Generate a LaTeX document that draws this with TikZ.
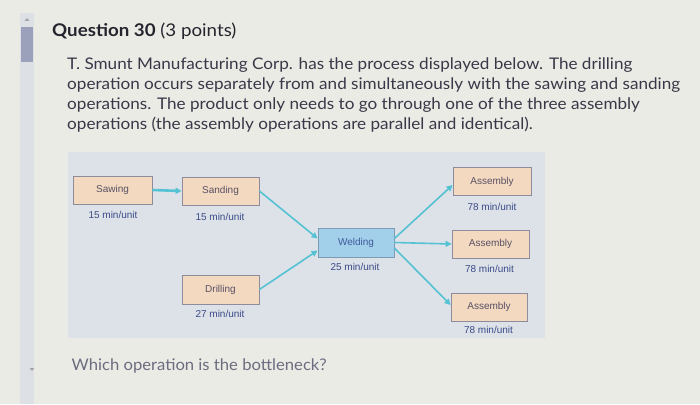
\documentclass[tikz,border=0pt]{standalone}
\usepackage{fontspec}
\setmainfont{Lato}
\newfontfamily\parafont[FakeStretch=1.07]{Lato}
\newfontfamily\askfont[FakeStretch=1.04]{Lato}
\newfontfamily\diagfont{Liberation Sans}
\usetikzlibrary{arrows.meta}
\definecolor{bgcol}{HTML}{EBEBE5}
\definecolor{panelcol}{HTML}{DCE2E8}
\definecolor{trackcol}{HTML}{DDE0E5}
\definecolor{thumbcol}{HTML}{9BA1BA}
\definecolor{titlecol}{HTML}{25252F}
\definecolor{paracol}{HTML}{383848}
\definecolor{askcol}{HTML}{6C6C80}
\definecolor{peach}{HTML}{F2D9C0}
\definecolor{peachedge}{HTML}{8E8C9C}
\definecolor{weldfill}{HTML}{A2CFEA}
\definecolor{weldedge}{HTML}{7C9CB4}
\definecolor{boxtext}{HTML}{5A5064}
\definecolor{weldtext}{HTML}{3D5A9A}
\definecolor{labelcol}{HTML}{3B4A88}
\definecolor{arrowcol}{HTML}{55C2D3}
\tikzset{
  opbox/.style={draw=peachedge, fill=peach, line width=0.8pt, minimum width=77pt, minimum height=28pt, inner sep=0pt, font=\diagfont\fontsize{10}{11}\selectfont, text=boxtext},
  weldbox/.style={opbox, draw=weldedge, fill=weldfill, text=weldtext},
  ratelabel/.style={inner sep=0pt, font=\diagfont\fontsize{10}{11}\selectfont, text=labelcol},
  flow/.style={draw=arrowcol, line width=1.6pt, -{Triangle[length=6pt,width=6pt]}},
  paraline/.style={anchor=base west, inner sep=0pt, font=\parafont\fontsize{16}{18}\selectfont, text=paracol}
}
\begin{document}
\begin{tikzpicture}[x=1pt,y=-1pt]
\useasboundingbox (0,0) rectangle (700,404);
\fill[bgcol] (0,0) rectangle (700,404);
% scrollbar
\fill[trackcol] (20,13) rectangle (34,404);
\fill[thumbcol] (21,27) rectangle (33,62);
\fill[gray!70] (24.5,21) -- (29.5,21) -- (27,18) -- cycle;
\fill[gray!70] (29.5,368) -- (34.5,368) -- (32,371) -- cycle;
% title and text
\node[anchor=base west, inner sep=0pt, font=\parafont\fontsize{17.5}{20}\selectfont, text=titlecol] (title) at (52,36.7) {\textbf{Question 30} (3 points)};
\node[paraline] (p1) at (67,69.5) {T. Smunt Manufacturing Corp. has the process displayed below. The drilling};
\node[paraline] (p2) at (67,89.5) {operation occurs separately from and simultaneously with the sawing and sanding};
\node[paraline] (p3) at (67,109.5) {operations. The product only needs to go through one of the three assembly};
\node[paraline] (p4) at (67,129.5) {operations (the assembly operations are parallel and identical).};
% panel
\fill[panelcol] (68,152) rectangle (545,338);
% boxes
\node[opbox, minimum width=79pt] (saw) at (112.5,190) {Sawing};
\node[opbox] (sand) at (220.5,191) {Sanding};
\node[opbox, minimum height=29pt] (drill) at (220.5,289.5) {Drilling};
\node[weldbox, minimum width=76pt, minimum height=29pt] (weld) at (356,242.5) {Welding};
\node[opbox, minimum width=78pt] (as1) at (492,181.5) {Assembly};
\node[opbox] (as2) at (490.5,244) {Assembly};
\node[opbox, minimum width=76pt] (as3) at (489,307) {Assembly};
% rate labels
\node[ratelabel] (lsaw) at (113,215) {15 min/unit};
\node[ratelabel] (lsand) at (220,216.5) {15 min/unit};
\node[ratelabel] (ldrill) at (220,313.5) {27 min/unit};
\node[ratelabel] (lweld) at (355,267) {25 min/unit};
\node[ratelabel] (las1) at (492,206.5) {78 min/unit};
\node[ratelabel] (las2) at (489.5,269) {78 min/unit};
\node[ratelabel] (las3) at (488.5,330) {78 min/unit};
% connectors
\draw[flow, line width=2.6pt] (saw.east) -- (sand.west);
\draw[flow] (sand.east) -- ([yshift=4pt]weld.west);
\draw[flow] (drill.east) -- ([yshift=-8pt]weld.west);
\draw[flow] ([yshift=4pt]weld.east) -- ([yshift=-3.5pt]as1.west);
\draw[flow] (weld.east) -- (as2.west);
\draw[flow] ([yshift=-5.5pt]weld.east) -- ([yshift=2pt]as3.west);
% question
\node[anchor=base west, inner sep=0pt, font=\askfont\fontsize{16}{18}\selectfont, text=askcol] (ask) at (71.5,370) {Which operation is the bottleneck?};
\end{tikzpicture}
\end{document}
